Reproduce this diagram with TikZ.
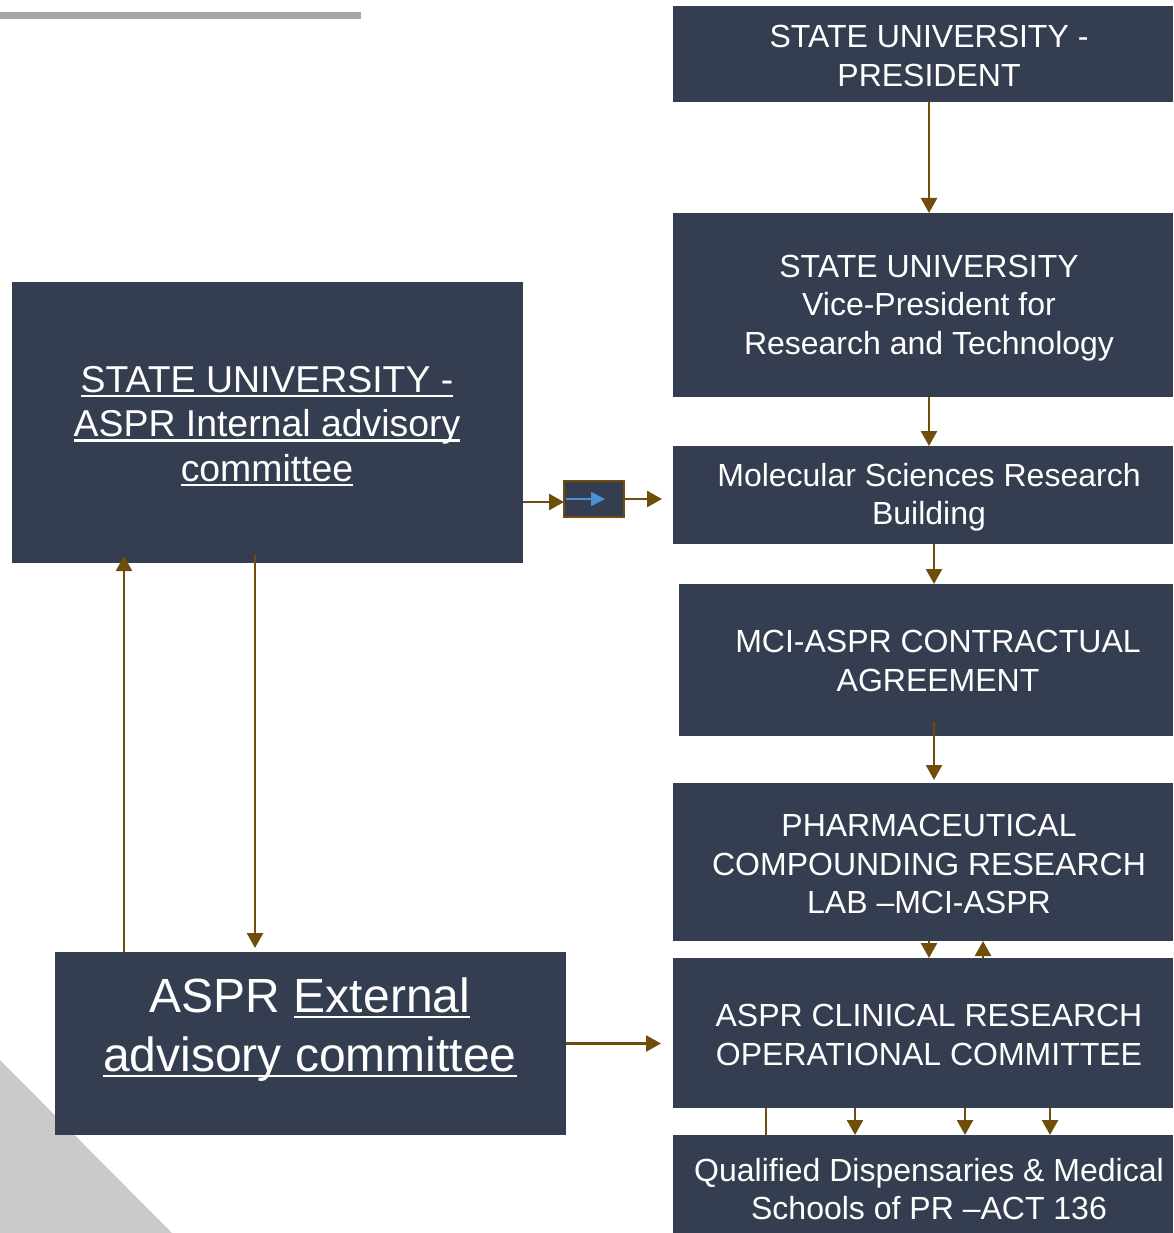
\documentclass[tikz,border=0pt]{standalone}
\usepackage{fontspec}
\setmainfont{Liberation Sans}
\newsavebox{\myulbox}
\newcommand{\myul}[1]{\sbox{\myulbox}{#1}\leavevmode\rlap{\rule[-5pt]{\wd\myulbox}{2.2pt}}\usebox{\myulbox}}
\usetikzlibrary{arrows.meta,calc}
\definecolor{boxc}{RGB}{53,62,80}
\definecolor{brn}{RGB}{110,78,8}
\definecolor{bluea}{RGB}{74,144,210}
\definecolor{grayl}{RGB}{166,166,166}
\definecolor{grayt}{RGB}{203,202,203}
\begin{document}
\begin{tikzpicture}[x=1pt,y=-1pt,
  box/.style={fill=boxc, inner sep=0pt, outer sep=0pt},
  txt/.style={text=white, align=center, inner sep=0pt, font=\fontsize{32}{38.3}\selectfont},
  arr/.style={draw=brn, line width=2.5pt, -{Triangle[length=15pt,width=16pt]}},
  ln/.style={draw=brn, line width=2.5pt}]
\useasboundingbox (0,0) rectangle (1173,1233);
% decorations
\fill[grayl] (0,12) rectangle (361,19);
\fill[grayt] (0,1060) -- (172,1233) -- (0,1233) -- cycle;
% boxes
\node[box, minimum width=500, minimum height=96]  (pres) at (923,54) {};
\node[box, minimum width=500, minimum height=184] (vp)   at (923,305) {};
\node[box, minimum width=500, minimum height=98]  (mol)  at (923,495) {};
\node[box, minimum width=494, minimum height=152] (mci)  at (926,660) {};
\node[box, minimum width=500, minimum height=158] (pcr)  at (923,862) {};
\node[box, minimum width=500, minimum height=150] (clin) at (923,1033) {};
\node[box, minimum width=500, minimum height=98]  (qual) at (923,1184) {};
\node[box, minimum width=511, minimum height=281] (int)  at (267.5,422.5) {};
\node[box, minimum width=511, minimum height=183] (ext)  at (310.5,1043.5) {};
\node[box, draw=brn, line width=1.5pt, minimum width=60, minimum height=36] (mini) at (594,499) {};
% texts
\node[txt] (tpres) at (929,56) {STATE UNIVERSITY -\\PRESIDENT};
\node[txt] (tvp) at (929,308) {STATE UNIVERSITY\\Vice-President for\\Research and Technology};
\node[txt] (tmol) at (929,497) {Molecular Sciences Research\\Building};
\node[txt] (tmci) at (938,661) {MCI-ASPR CONTRACTUAL\\AGREEMENT};
\node[txt] (tpcr) at (929,864) {PHARMACEUTICAL\\COMPOUNDING RESEARCH\\LAB –MCI-ASPR};
\node[txt] (tclin) at (929,1035) {ASPR CLINICAL RESEARCH\\OPERATIONAL COMMITTEE};
\node[txt] (tqual) at (929,1189) {Qualified Dispensaries \& Medical\\Schools of PR –ACT 136};
\node[txt, font=\fontsize{37.4}{44.5}\selectfont] (tint) at (267,426)
  {\myul{STATE UNIVERSITY -}\\\myul{ASPR Internal advisory}\\\myul{committee}};
\node[txt, font=\fontsize{48}{59}\selectfont] (text) at (310,1030)
  {ASPR \myul{External}\\\myul{advisory committee}};
% connectors
\draw[arr] ([xshift=6]pres.south) -- ([xshift=6]vp.north);
\draw[arr] ([xshift=6]vp.south) -- ([xshift=6]mol.north);
\draw[arr] ([xshift=11]mol.south) -- ([xshift=8]mci.north);
\draw[arr] ([xshift=8,yshift=14]mci.south) -- ([xshift=11,yshift=3]pcr.north);
\draw[arr] ([xshift=6]pcr.south) -- ([xshift=6]clin.north);
\draw[arr] ([xshift=60]clin.north) -- ([xshift=60]pcr.south);
\draw[ln]  ([xshift=-157]clin.south) -- ([xshift=-157]qual.north);
\draw[arr] ([xshift=-68]clin.south) -- ([xshift=-68]qual.north);
\draw[arr] ([xshift=42]clin.south) -- ([xshift=42]qual.north);
\draw[arr] ([xshift=127]clin.south) -- ([xshift=127]qual.north);
\draw[arr] ($(int.east |- mini.west)+(0,3)$) -- ($(mini.west)+(0,3)$);
\draw[arr] (mini.east) -- ($(mini.east -| mol.west)+(-11,0)$);
\draw[bluea, line width=1.5pt, -{Triangle[length=14pt,width=14pt]}] ([xshift=2]mini.west) -- ([xshift=11]mini.center);
\coordinate (upx) at (124,0);
\coordinate (dnx) at (255,0);
\draw[arr] (upx |- ext.north) -- ($(upx |- int.south)+(0,-7)$);
\draw[arr] ($(dnx |- int.south)+(0,-8)$) -- ($(dnx |- ext.north)+(0,-4)$);
\draw[arr] (ext.east) -- ($(ext.east -| clin.west)+(-12,0)$);
\end{tikzpicture}
\end{document}
